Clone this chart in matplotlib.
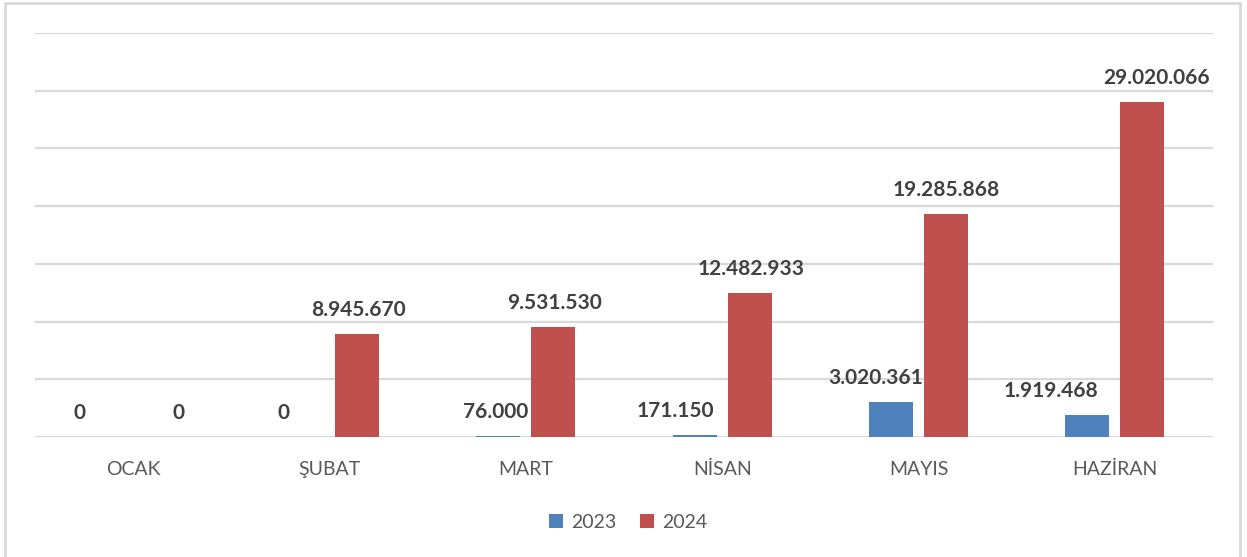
import matplotlib
matplotlib.use("Agg")
import matplotlib.pyplot as plt
from matplotlib.patches import Rectangle
import numpy as np

months = ["OCAK", "ŞUBAT", "MART", "NİSAN", "MAYIS", "HAZİRAN"]
series_names = ["2023", "2024"]
values_2023 = [0, 0, 76000, 171150, 3020361, 1919468]
values_2024 = [0, 8945670, 9531530, 12482933, 19285868, 29020066]

colors = ["#4F81BD", "#C0504D"]
text_color = "#404040"
label_color = "#595959"
grid_color = "#D9D9D9"

def fmt(v):
    return f"{v:,}".replace(",", ".")

fig = plt.figure(figsize=(12.47, 5.57), dpi=100)
fig.patch.set_facecolor("white")
fig.patches.append(Rectangle((5 / 1247, -0.05), (1240 - 5) / 1247, 1.05 - 3 / 557,
                             transform=fig.transFigure, fill=False,
                             edgecolor=grid_color, linewidth=2, zorder=0))

ax = fig.add_axes([35 / 1247, (557 - 437) / 557, (1213 - 35) / 1247, (437 - 33) / 557])
x = np.arange(len(months))
offset = 0.14
width = 0.225
b1 = ax.bar(x - offset, values_2023, width, color=colors[0], label=series_names[0], zorder=3)
b2 = ax.bar(x + offset, values_2024, width, color=colors[1], label=series_names[1], zorder=3)

ax.set_xlim(-0.5, len(months) - 0.5)
ax.set_ylim(0, 35_000_000)
ax.set_yticks(np.arange(0, 35_000_001, 5_000_000))
ax.yaxis.grid(True, color=grid_color, linewidth=1.6)
ax.set_axisbelow(True)
for s in ax.spines.values():
    s.set_visible(False)
ax.tick_params(axis="y", left=False, labelleft=False)
ax.tick_params(axis="x", bottom=False, pad=14)
ax.set_xticks(x)
ax.set_xticklabels(months, fontsize=14, color=label_color, family="Lato")

# label x shifts (points) to mimic original placement
shift_2023 = [-19, -13, -2, -14, -11, -26]
shift_2024 = [13, 1, 1, 1, 0, 10]
for bars, vals, shifts in ((b1, values_2023, shift_2023), (b2, values_2024, shift_2024)):
    for rect, v, dx in zip(bars, vals, shifts):
        ax.annotate(fmt(v), (rect.get_x() + rect.get_width() / 2, v),
                    xytext=(dx, 10), textcoords="offset points",
                    ha="center", va="bottom", fontsize=15, fontweight="bold",
                    color=text_color, family="Lato", annotation_clip=False)

leg = fig.legend(handles=[b1, b2], labels=series_names, loc="center",
                 bbox_to_anchor=(628 / 1247, 1 - 522 / 557), ncol=2, frameon=False,
                 prop={"family": "Lato", "size": 14}, handlelength=0.75, handleheight=0.75,
                 handletextpad=0.4, columnspacing=1.2, labelcolor=label_color)

fig.savefig("out.png", dpi=100)
